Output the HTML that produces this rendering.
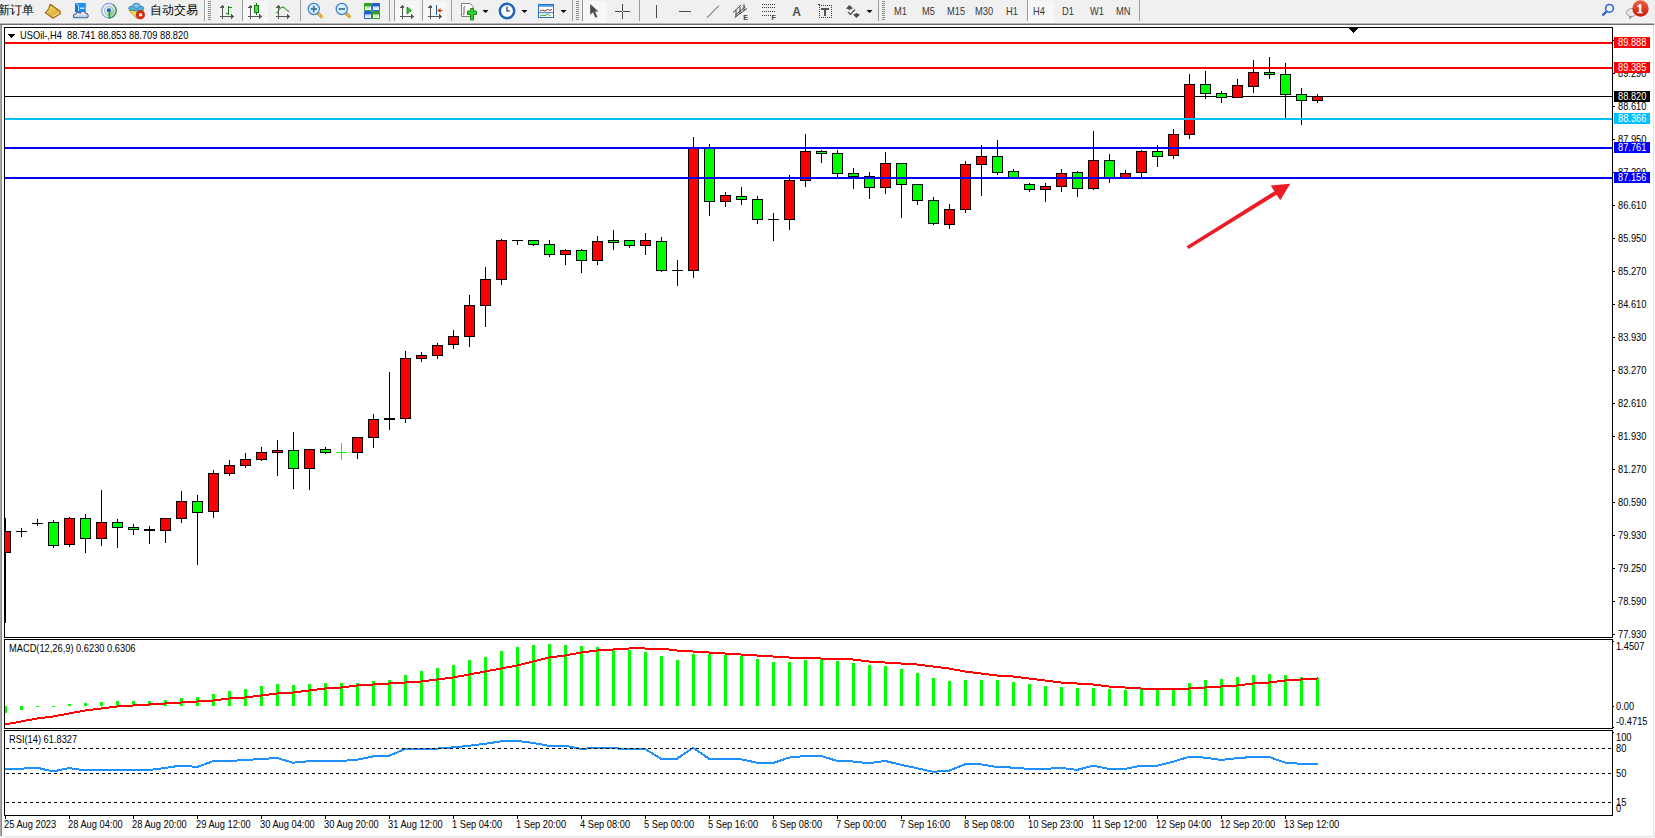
<!DOCTYPE html>
<html><head><meta charset="utf-8"><style>
html,body{margin:0;padding:0;width:1655px;height:838px;overflow:hidden;background:#f0f0f0}
svg{display:block}
text{font-family:"Liberation Sans", sans-serif;}
</style></head><body>
<svg width="1655" height="838" viewBox="0 0 1655 838">
<g shape-rendering="crispEdges">
<rect x="0" y="0" width="1655" height="838" fill="#f0f0f0"/>
<rect x="0" y="22" width="1654" height="1" fill="#f6f6f6"/>
<rect x="0" y="23" width="1654" height="1" fill="#b4b4b4"/>
<rect x="0" y="24" width="1654" height="1" fill="#6e6e6e"/>
<rect x="0" y="25" width="1" height="811" fill="#a8a8a8"/>
<rect x="1" y="25" width="1" height="811" fill="#8a8a8a"/>
<rect x="2" y="25" width="1651" height="811" fill="#ffffff"/>
<rect x="1653" y="25" width="1" height="812" fill="#e3e3e3"/>
<rect x="2" y="836" width="1652" height="1" fill="#e3e3e3"/>
<rect x="1654" y="25" width="1" height="813" fill="#fafafa"/>
<rect x="0" y="837" width="1655" height="1" fill="#fafafa"/>
<rect x="5" y="96" width="1607" height="1" fill="#000"/>
<rect x="5" y="518" width="1" height="105" fill="#000"/>
<rect x="5" y="531" width="6" height="22" fill="#000"/>
<rect x="5" y="532" width="5" height="20" fill="#ff0000"/>
<rect x="21" y="528" width="1" height="9" fill="#000"/>
<rect x="16" y="531" width="11" height="1" fill="#000"/>
<rect x="37" y="519" width="1" height="7" fill="#000"/>
<rect x="32" y="523" width="11" height="1" fill="#000"/>
<rect x="53" y="520" width="1" height="28" fill="#000"/>
<rect x="48" y="522" width="11" height="24" fill="#000"/>
<rect x="49" y="523" width="9" height="22" fill="#00ff00"/>
<rect x="69" y="517" width="1" height="30" fill="#000"/>
<rect x="64" y="518" width="11" height="27" fill="#000"/>
<rect x="65" y="519" width="9" height="25" fill="#ff0000"/>
<rect x="85" y="514" width="1" height="39" fill="#000"/>
<rect x="80" y="518" width="11" height="21" fill="#000"/>
<rect x="81" y="519" width="9" height="19" fill="#00ff00"/>
<rect x="101" y="490" width="1" height="56" fill="#000"/>
<rect x="96" y="522" width="11" height="17" fill="#000"/>
<rect x="97" y="523" width="9" height="15" fill="#ff0000"/>
<rect x="117" y="519" width="1" height="29" fill="#000"/>
<rect x="112" y="522" width="11" height="6" fill="#000"/>
<rect x="113" y="523" width="9" height="4" fill="#00ff00"/>
<rect x="133" y="524" width="1" height="11" fill="#000"/>
<rect x="128" y="527" width="11" height="3" fill="#000"/>
<rect x="129" y="528" width="9" height="1" fill="#00ff00"/>
<rect x="149" y="526" width="1" height="18" fill="#000"/>
<rect x="144" y="529" width="11" height="2" fill="#000"/>
<rect x="165" y="518" width="1" height="25" fill="#000"/>
<rect x="160" y="518" width="11" height="13" fill="#000"/>
<rect x="161" y="519" width="9" height="11" fill="#ff0000"/>
<rect x="181" y="491" width="1" height="32" fill="#000"/>
<rect x="176" y="501" width="11" height="18" fill="#000"/>
<rect x="177" y="502" width="9" height="16" fill="#ff0000"/>
<rect x="197" y="495" width="1" height="70" fill="#000"/>
<rect x="192" y="501" width="11" height="12" fill="#000"/>
<rect x="193" y="502" width="9" height="10" fill="#00ff00"/>
<rect x="213" y="470" width="1" height="48" fill="#000"/>
<rect x="208" y="473" width="11" height="39" fill="#000"/>
<rect x="209" y="474" width="9" height="37" fill="#ff0000"/>
<rect x="229" y="460" width="1" height="16" fill="#000"/>
<rect x="224" y="465" width="11" height="9" fill="#000"/>
<rect x="225" y="466" width="9" height="7" fill="#ff0000"/>
<rect x="245" y="453" width="1" height="15" fill="#000"/>
<rect x="240" y="459" width="11" height="7" fill="#000"/>
<rect x="241" y="460" width="9" height="5" fill="#ff0000"/>
<rect x="261" y="447" width="1" height="14" fill="#000"/>
<rect x="256" y="452" width="11" height="8" fill="#000"/>
<rect x="257" y="453" width="9" height="6" fill="#ff0000"/>
<rect x="277" y="440" width="1" height="36" fill="#000"/>
<rect x="272" y="450" width="11" height="3" fill="#000"/>
<rect x="273" y="451" width="9" height="1" fill="#ff0000"/>
<rect x="293" y="432" width="1" height="57" fill="#000"/>
<rect x="288" y="450" width="11" height="19" fill="#000"/>
<rect x="289" y="451" width="9" height="17" fill="#00ff00"/>
<rect x="309" y="449" width="1" height="41" fill="#000"/>
<rect x="304" y="449" width="11" height="20" fill="#000"/>
<rect x="305" y="450" width="9" height="18" fill="#ff0000"/>
<rect x="325" y="447" width="1" height="7" fill="#000"/>
<rect x="320" y="449" width="11" height="4" fill="#000"/>
<rect x="321" y="450" width="9" height="2" fill="#00ff00"/>
<rect x="341" y="443" width="1" height="17" fill="#00ff00"/>
<rect x="336" y="452" width="11" height="1" fill="#00ff00"/>
<rect x="357" y="437" width="1" height="22" fill="#000"/>
<rect x="352" y="437" width="11" height="16" fill="#000"/>
<rect x="353" y="438" width="9" height="14" fill="#ff0000"/>
<rect x="373" y="414" width="1" height="34" fill="#000"/>
<rect x="368" y="419" width="11" height="19" fill="#000"/>
<rect x="369" y="420" width="9" height="17" fill="#ff0000"/>
<rect x="389" y="372" width="1" height="58" fill="#000"/>
<rect x="384" y="418" width="11" height="2" fill="#000"/>
<rect x="405" y="351" width="1" height="72" fill="#000"/>
<rect x="400" y="358" width="11" height="61" fill="#000"/>
<rect x="401" y="359" width="9" height="59" fill="#ff0000"/>
<rect x="421" y="352" width="1" height="10" fill="#000"/>
<rect x="416" y="355" width="11" height="4" fill="#000"/>
<rect x="417" y="356" width="9" height="2" fill="#ff0000"/>
<rect x="437" y="343" width="1" height="16" fill="#000"/>
<rect x="432" y="345" width="11" height="11" fill="#000"/>
<rect x="433" y="346" width="9" height="9" fill="#ff0000"/>
<rect x="453" y="330" width="1" height="19" fill="#000"/>
<rect x="448" y="336" width="11" height="9" fill="#000"/>
<rect x="449" y="337" width="9" height="7" fill="#ff0000"/>
<rect x="469" y="295" width="1" height="52" fill="#000"/>
<rect x="464" y="305" width="11" height="32" fill="#000"/>
<rect x="465" y="306" width="9" height="30" fill="#ff0000"/>
<rect x="485" y="267" width="1" height="60" fill="#000"/>
<rect x="480" y="279" width="11" height="27" fill="#000"/>
<rect x="481" y="280" width="9" height="25" fill="#ff0000"/>
<rect x="501" y="239" width="1" height="46" fill="#000"/>
<rect x="496" y="240" width="11" height="40" fill="#000"/>
<rect x="497" y="241" width="9" height="38" fill="#ff0000"/>
<rect x="517" y="240" width="1" height="5" fill="#000"/>
<rect x="512" y="240" width="11" height="1" fill="#000"/>
<rect x="533" y="240" width="1" height="6" fill="#000"/>
<rect x="528" y="240" width="11" height="5" fill="#000"/>
<rect x="529" y="241" width="9" height="3" fill="#00ff00"/>
<rect x="549" y="240" width="1" height="17" fill="#000"/>
<rect x="544" y="244" width="11" height="11" fill="#000"/>
<rect x="545" y="245" width="9" height="9" fill="#00ff00"/>
<rect x="565" y="249" width="1" height="16" fill="#000"/>
<rect x="560" y="250" width="11" height="5" fill="#000"/>
<rect x="561" y="251" width="9" height="3" fill="#ff0000"/>
<rect x="581" y="249" width="1" height="24" fill="#000"/>
<rect x="576" y="250" width="11" height="11" fill="#000"/>
<rect x="577" y="251" width="9" height="9" fill="#00ff00"/>
<rect x="597" y="236" width="1" height="29" fill="#000"/>
<rect x="592" y="241" width="11" height="20" fill="#000"/>
<rect x="593" y="242" width="9" height="18" fill="#ff0000"/>
<rect x="613" y="230" width="1" height="20" fill="#000"/>
<rect x="608" y="240" width="11" height="3" fill="#000"/>
<rect x="609" y="241" width="9" height="1" fill="#00ff00"/>
<rect x="629" y="240" width="1" height="8" fill="#000"/>
<rect x="624" y="240" width="11" height="6" fill="#000"/>
<rect x="625" y="241" width="9" height="4" fill="#00ff00"/>
<rect x="645" y="233" width="1" height="22" fill="#000"/>
<rect x="640" y="240" width="11" height="6" fill="#000"/>
<rect x="641" y="241" width="9" height="4" fill="#ff0000"/>
<rect x="661" y="237" width="1" height="35" fill="#000"/>
<rect x="656" y="241" width="11" height="30" fill="#000"/>
<rect x="657" y="242" width="9" height="28" fill="#00ff00"/>
<rect x="677" y="260" width="1" height="26" fill="#000"/>
<rect x="672" y="270" width="11" height="1" fill="#000"/>
<rect x="693" y="137" width="1" height="141" fill="#000"/>
<rect x="688" y="148" width="11" height="123" fill="#000"/>
<rect x="689" y="149" width="9" height="121" fill="#ff0000"/>
<rect x="709" y="144" width="1" height="72" fill="#000"/>
<rect x="704" y="148" width="11" height="54" fill="#000"/>
<rect x="705" y="149" width="9" height="52" fill="#00ff00"/>
<rect x="725" y="192" width="1" height="15" fill="#000"/>
<rect x="720" y="195" width="11" height="7" fill="#000"/>
<rect x="721" y="196" width="9" height="5" fill="#ff0000"/>
<rect x="741" y="187" width="1" height="18" fill="#000"/>
<rect x="736" y="196" width="11" height="4" fill="#000"/>
<rect x="737" y="197" width="9" height="2" fill="#00ff00"/>
<rect x="757" y="196" width="1" height="28" fill="#000"/>
<rect x="752" y="199" width="11" height="21" fill="#000"/>
<rect x="753" y="200" width="9" height="19" fill="#00ff00"/>
<rect x="773" y="213" width="1" height="28" fill="#000"/>
<rect x="768" y="219" width="11" height="1" fill="#000"/>
<rect x="789" y="175" width="1" height="55" fill="#000"/>
<rect x="784" y="180" width="11" height="40" fill="#000"/>
<rect x="785" y="181" width="9" height="38" fill="#ff0000"/>
<rect x="805" y="134" width="1" height="53" fill="#000"/>
<rect x="800" y="151" width="11" height="30" fill="#000"/>
<rect x="801" y="152" width="9" height="28" fill="#ff0000"/>
<rect x="821" y="150" width="1" height="13" fill="#000"/>
<rect x="816" y="151" width="11" height="3" fill="#000"/>
<rect x="817" y="152" width="9" height="1" fill="#00ff00"/>
<rect x="837" y="150" width="1" height="28" fill="#000"/>
<rect x="832" y="153" width="11" height="21" fill="#000"/>
<rect x="833" y="154" width="9" height="19" fill="#00ff00"/>
<rect x="853" y="168" width="1" height="21" fill="#000"/>
<rect x="848" y="173" width="11" height="4" fill="#000"/>
<rect x="849" y="174" width="9" height="2" fill="#00ff00"/>
<rect x="869" y="172" width="1" height="27" fill="#000"/>
<rect x="864" y="176" width="11" height="12" fill="#000"/>
<rect x="865" y="177" width="9" height="10" fill="#00ff00"/>
<rect x="885" y="152" width="1" height="42" fill="#000"/>
<rect x="880" y="163" width="11" height="25" fill="#000"/>
<rect x="881" y="164" width="9" height="23" fill="#ff0000"/>
<rect x="901" y="163" width="1" height="55" fill="#000"/>
<rect x="896" y="163" width="11" height="22" fill="#000"/>
<rect x="897" y="164" width="9" height="20" fill="#00ff00"/>
<rect x="917" y="184" width="1" height="21" fill="#000"/>
<rect x="912" y="184" width="11" height="17" fill="#000"/>
<rect x="913" y="185" width="9" height="15" fill="#00ff00"/>
<rect x="933" y="197" width="1" height="28" fill="#000"/>
<rect x="928" y="200" width="11" height="24" fill="#000"/>
<rect x="929" y="201" width="9" height="22" fill="#00ff00"/>
<rect x="949" y="204" width="1" height="25" fill="#000"/>
<rect x="944" y="209" width="11" height="16" fill="#000"/>
<rect x="945" y="210" width="9" height="14" fill="#ff0000"/>
<rect x="965" y="161" width="1" height="52" fill="#000"/>
<rect x="960" y="164" width="11" height="46" fill="#000"/>
<rect x="961" y="165" width="9" height="44" fill="#ff0000"/>
<rect x="981" y="145" width="1" height="51" fill="#000"/>
<rect x="976" y="156" width="11" height="9" fill="#000"/>
<rect x="977" y="157" width="9" height="7" fill="#ff0000"/>
<rect x="997" y="140" width="1" height="35" fill="#000"/>
<rect x="992" y="156" width="11" height="17" fill="#000"/>
<rect x="993" y="157" width="9" height="15" fill="#00ff00"/>
<rect x="1013" y="169" width="1" height="9" fill="#000"/>
<rect x="1008" y="171" width="11" height="7" fill="#000"/>
<rect x="1009" y="172" width="9" height="5" fill="#00ff00"/>
<rect x="1029" y="183" width="1" height="9" fill="#000"/>
<rect x="1024" y="184" width="11" height="6" fill="#000"/>
<rect x="1025" y="185" width="9" height="4" fill="#00ff00"/>
<rect x="1045" y="183" width="1" height="19" fill="#000"/>
<rect x="1040" y="186" width="11" height="4" fill="#000"/>
<rect x="1041" y="187" width="9" height="2" fill="#ff0000"/>
<rect x="1061" y="169" width="1" height="23" fill="#000"/>
<rect x="1056" y="173" width="11" height="14" fill="#000"/>
<rect x="1057" y="174" width="9" height="12" fill="#ff0000"/>
<rect x="1077" y="171" width="1" height="26" fill="#000"/>
<rect x="1072" y="172" width="11" height="17" fill="#000"/>
<rect x="1073" y="173" width="9" height="15" fill="#00ff00"/>
<rect x="1093" y="131" width="1" height="59" fill="#000"/>
<rect x="1088" y="160" width="11" height="29" fill="#000"/>
<rect x="1089" y="161" width="9" height="27" fill="#ff0000"/>
<rect x="1109" y="154" width="1" height="29" fill="#000"/>
<rect x="1104" y="160" width="11" height="18" fill="#000"/>
<rect x="1105" y="161" width="9" height="16" fill="#00ff00"/>
<rect x="1125" y="170" width="1" height="8" fill="#000"/>
<rect x="1120" y="173" width="11" height="5" fill="#000"/>
<rect x="1121" y="174" width="9" height="3" fill="#ff0000"/>
<rect x="1141" y="150" width="1" height="27" fill="#000"/>
<rect x="1136" y="151" width="11" height="22" fill="#000"/>
<rect x="1137" y="152" width="9" height="20" fill="#ff0000"/>
<rect x="1157" y="145" width="1" height="22" fill="#000"/>
<rect x="1152" y="151" width="11" height="6" fill="#000"/>
<rect x="1153" y="152" width="9" height="4" fill="#00ff00"/>
<rect x="1173" y="129" width="1" height="30" fill="#000"/>
<rect x="1168" y="134" width="11" height="22" fill="#000"/>
<rect x="1169" y="135" width="9" height="20" fill="#ff0000"/>
<rect x="1189" y="74" width="1" height="65" fill="#000"/>
<rect x="1184" y="84" width="11" height="51" fill="#000"/>
<rect x="1185" y="85" width="9" height="49" fill="#ff0000"/>
<rect x="1205" y="71" width="1" height="28" fill="#000"/>
<rect x="1200" y="84" width="11" height="10" fill="#000"/>
<rect x="1201" y="85" width="9" height="8" fill="#00ff00"/>
<rect x="1221" y="91" width="1" height="12" fill="#000"/>
<rect x="1216" y="93" width="11" height="5" fill="#000"/>
<rect x="1217" y="94" width="9" height="3" fill="#00ff00"/>
<rect x="1237" y="79" width="1" height="19" fill="#000"/>
<rect x="1232" y="85" width="11" height="13" fill="#000"/>
<rect x="1233" y="86" width="9" height="11" fill="#ff0000"/>
<rect x="1253" y="60" width="1" height="33" fill="#000"/>
<rect x="1248" y="72" width="11" height="15" fill="#000"/>
<rect x="1249" y="73" width="9" height="13" fill="#ff0000"/>
<rect x="1269" y="57" width="1" height="22" fill="#000"/>
<rect x="1264" y="72" width="11" height="3" fill="#000"/>
<rect x="1265" y="73" width="9" height="1" fill="#00ff00"/>
<rect x="1285" y="63" width="1" height="56" fill="#000"/>
<rect x="1280" y="74" width="11" height="21" fill="#000"/>
<rect x="1281" y="75" width="9" height="19" fill="#00ff00"/>
<rect x="1301" y="88" width="1" height="37" fill="#000"/>
<rect x="1296" y="94" width="11" height="7" fill="#000"/>
<rect x="1297" y="95" width="9" height="5" fill="#00ff00"/>
<rect x="1317" y="94" width="1" height="9" fill="#000"/>
<rect x="1312" y="96" width="11" height="5" fill="#000"/>
<rect x="1313" y="97" width="9" height="3" fill="#ff0000"/>
<rect x="5" y="42" width="1607" height="2" fill="#ff0000"/>
<rect x="5" y="67" width="1607" height="2" fill="#ff0000"/>
<rect x="5" y="118" width="1607" height="2" fill="#00bfff"/>
<rect x="5" y="147" width="1607" height="2" fill="#0000ff"/>
<rect x="5" y="177" width="1607" height="2" fill="#0000ff"/>
<g fill="#ed1c24" stroke="none" shape-rendering="geometricPrecision"><polygon points="1186.6,246.2 1188.6,249.0 1277.0,194.4 1275.0,191.0"/><polygon points="1270.7,185.5 1290.3,183.8 1280.2,200.3"/></g>
<rect x="4" y="27" width="1609" height="1" fill="#000"/>
<rect x="4" y="637" width="1609" height="1" fill="#000"/>
<rect x="4" y="27" width="1" height="611" fill="#000"/>
<rect x="1612" y="27" width="1" height="611" fill="#000"/>
<rect x="4" y="639" width="1609" height="1" fill="#000"/>
<rect x="4" y="728" width="1609" height="1" fill="#000"/>
<rect x="4" y="639" width="1" height="90" fill="#000"/>
<rect x="1612" y="639" width="1" height="90" fill="#000"/>
<rect x="4" y="730" width="1609" height="1" fill="#000"/>
<rect x="4" y="815" width="1609" height="1" fill="#000"/>
<rect x="4" y="730" width="1" height="86" fill="#000"/>
<rect x="1612" y="730" width="1" height="86" fill="#000"/>
<rect x="1349" y="28" width="9" height="1" fill="#000"/>
<rect x="1350" y="29" width="7" height="1" fill="#000"/>
<rect x="1351" y="30" width="5" height="1" fill="#000"/>
<rect x="1352" y="31" width="3" height="1" fill="#000"/>
<rect x="1353" y="32" width="1" height="1" fill="#000"/>
<rect x="1613" y="40" width="2" height="1" fill="#000"/>
<rect x="1613" y="73" width="2" height="1" fill="#000"/>
<text transform="translate(1618 77) scale(1 1.1)" font-size="9.3" fill="#000" text-anchor="start" >89.290</text>
<rect x="1613" y="106" width="2" height="1" fill="#000"/>
<text transform="translate(1618 110) scale(1 1.1)" font-size="9.3" fill="#000" text-anchor="start" >88.610</text>
<rect x="1613" y="139" width="2" height="1" fill="#000"/>
<text transform="translate(1618 143) scale(1 1.1)" font-size="9.3" fill="#000" text-anchor="start" >87.950</text>
<rect x="1613" y="172" width="2" height="1" fill="#000"/>
<text transform="translate(1618 176) scale(1 1.1)" font-size="9.3" fill="#000" text-anchor="start" >87.290</text>
<rect x="1613" y="205" width="2" height="1" fill="#000"/>
<text transform="translate(1618 209) scale(1 1.1)" font-size="9.3" fill="#000" text-anchor="start" >86.610</text>
<rect x="1613" y="238" width="2" height="1" fill="#000"/>
<text transform="translate(1618 242) scale(1 1.1)" font-size="9.3" fill="#000" text-anchor="start" >85.950</text>
<rect x="1613" y="271" width="2" height="1" fill="#000"/>
<text transform="translate(1618 275) scale(1 1.1)" font-size="9.3" fill="#000" text-anchor="start" >85.270</text>
<rect x="1613" y="304" width="2" height="1" fill="#000"/>
<text transform="translate(1618 308) scale(1 1.1)" font-size="9.3" fill="#000" text-anchor="start" >84.610</text>
<rect x="1613" y="337" width="2" height="1" fill="#000"/>
<text transform="translate(1618 341) scale(1 1.1)" font-size="9.3" fill="#000" text-anchor="start" >83.930</text>
<rect x="1613" y="370" width="2" height="1" fill="#000"/>
<text transform="translate(1618 374) scale(1 1.1)" font-size="9.3" fill="#000" text-anchor="start" >83.270</text>
<rect x="1613" y="403" width="2" height="1" fill="#000"/>
<text transform="translate(1618 407) scale(1 1.1)" font-size="9.3" fill="#000" text-anchor="start" >82.610</text>
<rect x="1613" y="436" width="2" height="1" fill="#000"/>
<text transform="translate(1618 440) scale(1 1.1)" font-size="9.3" fill="#000" text-anchor="start" >81.930</text>
<rect x="1613" y="469" width="2" height="1" fill="#000"/>
<text transform="translate(1618 473) scale(1 1.1)" font-size="9.3" fill="#000" text-anchor="start" >81.270</text>
<rect x="1613" y="502" width="2" height="1" fill="#000"/>
<text transform="translate(1618 506) scale(1 1.1)" font-size="9.3" fill="#000" text-anchor="start" >80.590</text>
<rect x="1613" y="535" width="2" height="1" fill="#000"/>
<text transform="translate(1618 539) scale(1 1.1)" font-size="9.3" fill="#000" text-anchor="start" >79.930</text>
<rect x="1613" y="568" width="2" height="1" fill="#000"/>
<text transform="translate(1618 572) scale(1 1.1)" font-size="9.3" fill="#000" text-anchor="start" >79.250</text>
<rect x="1613" y="601" width="2" height="1" fill="#000"/>
<text transform="translate(1618 605) scale(1 1.1)" font-size="9.3" fill="#000" text-anchor="start" >78.590</text>
<rect x="1613" y="634" width="2" height="1" fill="#000"/>
<text transform="translate(1618 638) scale(1 1.1)" font-size="9.3" fill="#000" text-anchor="start" >77.930</text>
<rect x="1614" y="37" width="36" height="11" fill="#ff0000"/>
<text transform="translate(1618 46) scale(1 1.1)" font-size="9.3" fill="#fff" text-anchor="start" >89.888</text>
<rect x="1614" y="62" width="36" height="11" fill="#ff0000"/>
<text transform="translate(1618 71) scale(1 1.1)" font-size="9.3" fill="#fff" text-anchor="start" >89.385</text>
<rect x="1614" y="91" width="36" height="11" fill="#000"/>
<text transform="translate(1618 100) scale(1 1.1)" font-size="9.3" fill="#fff" text-anchor="start" >88.820</text>
<rect x="1614" y="113" width="36" height="11" fill="#00bfff"/>
<text transform="translate(1618 122) scale(1 1.1)" font-size="9.3" fill="#fff" text-anchor="start" >88.366</text>
<rect x="1614" y="142" width="36" height="11" fill="#0000ff"/>
<text transform="translate(1618 151) scale(1 1.1)" font-size="9.3" fill="#fff" text-anchor="start" >87.761</text>
<rect x="1614" y="172" width="36" height="11" fill="#0000ff"/>
<text transform="translate(1618 181) scale(1 1.1)" font-size="9.3" fill="#fff" text-anchor="start" >87.156</text>
<polygon points="8,34 15,34 11.5,38" fill="#000"/>
<text transform="translate(20 39) scale(1 1.1)" font-size="9.3" fill="#000" text-anchor="start" >USOil-,H4&#160;&#160;88.741 88.853 88.709 88.820</text>
<rect x="5" y="706" width="2" height="7" fill="#00ff00"/>
<rect x="20" y="706" width="3" height="4" fill="#00ff00"/>
<rect x="36" y="706" width="3" height="1" fill="#00ff00"/>
<rect x="52" y="706" width="3" height="1" fill="#00ff00"/>
<rect x="68" y="704" width="3" height="2" fill="#00ff00"/>
<rect x="84" y="703" width="3" height="3" fill="#00ff00"/>
<rect x="100" y="702" width="3" height="4" fill="#00ff00"/>
<rect x="116" y="701" width="3" height="5" fill="#00ff00"/>
<rect x="132" y="701" width="3" height="5" fill="#00ff00"/>
<rect x="148" y="701" width="3" height="5" fill="#00ff00"/>
<rect x="164" y="700" width="3" height="6" fill="#00ff00"/>
<rect x="180" y="698" width="3" height="8" fill="#00ff00"/>
<rect x="196" y="697" width="3" height="9" fill="#00ff00"/>
<rect x="212" y="694" width="3" height="12" fill="#00ff00"/>
<rect x="228" y="691" width="3" height="15" fill="#00ff00"/>
<rect x="244" y="689" width="3" height="17" fill="#00ff00"/>
<rect x="260" y="686" width="3" height="20" fill="#00ff00"/>
<rect x="276" y="684" width="3" height="22" fill="#00ff00"/>
<rect x="292" y="685" width="3" height="21" fill="#00ff00"/>
<rect x="308" y="684" width="3" height="22" fill="#00ff00"/>
<rect x="324" y="683" width="3" height="23" fill="#00ff00"/>
<rect x="340" y="683" width="3" height="23" fill="#00ff00"/>
<rect x="356" y="683" width="3" height="23" fill="#00ff00"/>
<rect x="372" y="681" width="3" height="25" fill="#00ff00"/>
<rect x="388" y="680" width="3" height="26" fill="#00ff00"/>
<rect x="404" y="675" width="3" height="31" fill="#00ff00"/>
<rect x="420" y="671" width="3" height="35" fill="#00ff00"/>
<rect x="436" y="668" width="3" height="38" fill="#00ff00"/>
<rect x="452" y="665" width="3" height="41" fill="#00ff00"/>
<rect x="468" y="660" width="3" height="46" fill="#00ff00"/>
<rect x="484" y="657" width="3" height="49" fill="#00ff00"/>
<rect x="500" y="651" width="3" height="55" fill="#00ff00"/>
<rect x="516" y="647" width="3" height="59" fill="#00ff00"/>
<rect x="532" y="645" width="3" height="61" fill="#00ff00"/>
<rect x="548" y="644" width="3" height="62" fill="#00ff00"/>
<rect x="564" y="645" width="3" height="61" fill="#00ff00"/>
<rect x="580" y="646" width="3" height="60" fill="#00ff00"/>
<rect x="596" y="647" width="3" height="59" fill="#00ff00"/>
<rect x="612" y="649" width="3" height="57" fill="#00ff00"/>
<rect x="628" y="650" width="3" height="56" fill="#00ff00"/>
<rect x="644" y="652" width="3" height="54" fill="#00ff00"/>
<rect x="660" y="656" width="3" height="50" fill="#00ff00"/>
<rect x="676" y="660" width="3" height="46" fill="#00ff00"/>
<rect x="692" y="654" width="3" height="52" fill="#00ff00"/>
<rect x="708" y="654" width="3" height="52" fill="#00ff00"/>
<rect x="724" y="655" width="3" height="51" fill="#00ff00"/>
<rect x="740" y="656" width="3" height="50" fill="#00ff00"/>
<rect x="756" y="659" width="3" height="47" fill="#00ff00"/>
<rect x="772" y="662" width="3" height="44" fill="#00ff00"/>
<rect x="788" y="662" width="3" height="44" fill="#00ff00"/>
<rect x="804" y="660" width="3" height="46" fill="#00ff00"/>
<rect x="820" y="659" width="3" height="47" fill="#00ff00"/>
<rect x="836" y="661" width="3" height="45" fill="#00ff00"/>
<rect x="852" y="663" width="3" height="43" fill="#00ff00"/>
<rect x="868" y="665" width="3" height="41" fill="#00ff00"/>
<rect x="884" y="666" width="3" height="40" fill="#00ff00"/>
<rect x="900" y="669" width="3" height="37" fill="#00ff00"/>
<rect x="916" y="673" width="3" height="33" fill="#00ff00"/>
<rect x="932" y="678" width="3" height="28" fill="#00ff00"/>
<rect x="948" y="681" width="3" height="25" fill="#00ff00"/>
<rect x="964" y="680" width="3" height="26" fill="#00ff00"/>
<rect x="980" y="680" width="3" height="26" fill="#00ff00"/>
<rect x="996" y="680" width="3" height="26" fill="#00ff00"/>
<rect x="1012" y="682" width="3" height="24" fill="#00ff00"/>
<rect x="1028" y="684" width="3" height="22" fill="#00ff00"/>
<rect x="1044" y="686" width="3" height="20" fill="#00ff00"/>
<rect x="1060" y="687" width="3" height="19" fill="#00ff00"/>
<rect x="1076" y="688" width="3" height="18" fill="#00ff00"/>
<rect x="1092" y="688" width="3" height="18" fill="#00ff00"/>
<rect x="1108" y="689" width="3" height="17" fill="#00ff00"/>
<rect x="1124" y="690" width="3" height="16" fill="#00ff00"/>
<rect x="1140" y="689" width="3" height="17" fill="#00ff00"/>
<rect x="1156" y="688" width="3" height="18" fill="#00ff00"/>
<rect x="1172" y="688" width="3" height="18" fill="#00ff00"/>
<rect x="1188" y="683" width="3" height="23" fill="#00ff00"/>
<rect x="1204" y="680" width="3" height="26" fill="#00ff00"/>
<rect x="1220" y="679" width="3" height="27" fill="#00ff00"/>
<rect x="1236" y="677" width="3" height="29" fill="#00ff00"/>
<rect x="1252" y="675" width="3" height="31" fill="#00ff00"/>
<rect x="1268" y="674" width="3" height="32" fill="#00ff00"/>
<rect x="1284" y="675" width="3" height="31" fill="#00ff00"/>
<rect x="1300" y="677" width="3" height="29" fill="#00ff00"/>
<rect x="1316" y="678" width="3" height="28" fill="#00ff00"/>
<rect x="5" y="723" width="5" height="2" fill="#ff0000"/>
<rect x="10" y="722" width="6" height="2" fill="#ff0000"/>
<rect x="16" y="721" width="5" height="2" fill="#ff0000"/>
<rect x="21" y="720" width="5" height="2" fill="#ff0000"/>
<rect x="26" y="719" width="6" height="2" fill="#ff0000"/>
<rect x="32" y="718" width="5" height="2" fill="#ff0000"/>
<rect x="37" y="717" width="8" height="2" fill="#ff0000"/>
<rect x="45" y="716" width="8" height="2" fill="#ff0000"/>
<rect x="53" y="715" width="5" height="2" fill="#ff0000"/>
<rect x="58" y="714" width="6" height="2" fill="#ff0000"/>
<rect x="64" y="713" width="5" height="2" fill="#ff0000"/>
<rect x="69" y="712" width="5" height="2" fill="#ff0000"/>
<rect x="74" y="711" width="6" height="2" fill="#ff0000"/>
<rect x="80" y="710" width="5" height="2" fill="#ff0000"/>
<rect x="85" y="709" width="8" height="2" fill="#ff0000"/>
<rect x="93" y="708" width="8" height="2" fill="#ff0000"/>
<rect x="101" y="707" width="8" height="2" fill="#ff0000"/>
<rect x="109" y="706" width="8" height="2" fill="#ff0000"/>
<rect x="117" y="705" width="16" height="2" fill="#ff0000"/>
<rect x="133" y="704" width="16" height="2" fill="#ff0000"/>
<rect x="149" y="703" width="16" height="2" fill="#ff0000"/>
<rect x="165" y="702" width="16" height="2" fill="#ff0000"/>
<rect x="181" y="701" width="16" height="2" fill="#ff0000"/>
<rect x="197" y="700" width="16" height="2" fill="#ff0000"/>
<rect x="213" y="699" width="8" height="2" fill="#ff0000"/>
<rect x="221" y="698" width="8" height="2" fill="#ff0000"/>
<rect x="229" y="697" width="16" height="2" fill="#ff0000"/>
<rect x="245" y="696" width="8" height="2" fill="#ff0000"/>
<rect x="253" y="695" width="8" height="2" fill="#ff0000"/>
<rect x="261" y="694" width="8" height="2" fill="#ff0000"/>
<rect x="269" y="693" width="8" height="2" fill="#ff0000"/>
<rect x="277" y="692" width="16" height="2" fill="#ff0000"/>
<rect x="293" y="691" width="8" height="2" fill="#ff0000"/>
<rect x="301" y="690" width="8" height="2" fill="#ff0000"/>
<rect x="309" y="689" width="8" height="2" fill="#ff0000"/>
<rect x="317" y="688" width="8" height="2" fill="#ff0000"/>
<rect x="325" y="687" width="16" height="2" fill="#ff0000"/>
<rect x="341" y="686" width="8" height="2" fill="#ff0000"/>
<rect x="349" y="685" width="8" height="2" fill="#ff0000"/>
<rect x="357" y="684" width="16" height="2" fill="#ff0000"/>
<rect x="373" y="683" width="16" height="2" fill="#ff0000"/>
<rect x="389" y="682" width="16" height="2" fill="#ff0000"/>
<rect x="405" y="681" width="16" height="2" fill="#ff0000"/>
<rect x="421" y="680" width="8" height="2" fill="#ff0000"/>
<rect x="429" y="679" width="8" height="2" fill="#ff0000"/>
<rect x="437" y="678" width="8" height="2" fill="#ff0000"/>
<rect x="445" y="677" width="8" height="2" fill="#ff0000"/>
<rect x="453" y="676" width="5" height="2" fill="#ff0000"/>
<rect x="458" y="675" width="6" height="2" fill="#ff0000"/>
<rect x="464" y="674" width="5" height="2" fill="#ff0000"/>
<rect x="469" y="673" width="5" height="2" fill="#ff0000"/>
<rect x="474" y="672" width="6" height="2" fill="#ff0000"/>
<rect x="480" y="671" width="5" height="2" fill="#ff0000"/>
<rect x="485" y="670" width="5" height="2" fill="#ff0000"/>
<rect x="490" y="669" width="6" height="2" fill="#ff0000"/>
<rect x="496" y="668" width="5" height="2" fill="#ff0000"/>
<rect x="501" y="667" width="5" height="2" fill="#ff0000"/>
<rect x="506" y="666" width="6" height="2" fill="#ff0000"/>
<rect x="512" y="665" width="5" height="2" fill="#ff0000"/>
<rect x="517" y="664" width="4" height="2" fill="#ff0000"/>
<rect x="521" y="663" width="4" height="2" fill="#ff0000"/>
<rect x="525" y="662" width="4" height="2" fill="#ff0000"/>
<rect x="529" y="661" width="4" height="2" fill="#ff0000"/>
<rect x="533" y="660" width="4" height="2" fill="#ff0000"/>
<rect x="537" y="659" width="4" height="2" fill="#ff0000"/>
<rect x="541" y="658" width="4" height="2" fill="#ff0000"/>
<rect x="545" y="657" width="4" height="2" fill="#ff0000"/>
<rect x="549" y="656" width="8" height="2" fill="#ff0000"/>
<rect x="557" y="655" width="8" height="2" fill="#ff0000"/>
<rect x="565" y="654" width="5" height="2" fill="#ff0000"/>
<rect x="570" y="653" width="6" height="2" fill="#ff0000"/>
<rect x="576" y="652" width="5" height="2" fill="#ff0000"/>
<rect x="581" y="651" width="8" height="2" fill="#ff0000"/>
<rect x="589" y="650" width="8" height="2" fill="#ff0000"/>
<rect x="597" y="649" width="16" height="2" fill="#ff0000"/>
<rect x="613" y="648" width="16" height="2" fill="#ff0000"/>
<rect x="629" y="647" width="16" height="2" fill="#ff0000"/>
<rect x="645" y="648" width="16" height="2" fill="#ff0000"/>
<rect x="661" y="648" width="8" height="2" fill="#ff0000"/>
<rect x="669" y="649" width="8" height="2" fill="#ff0000"/>
<rect x="677" y="650" width="16" height="2" fill="#ff0000"/>
<rect x="693" y="651" width="16" height="2" fill="#ff0000"/>
<rect x="709" y="652" width="16" height="2" fill="#ff0000"/>
<rect x="725" y="653" width="16" height="2" fill="#ff0000"/>
<rect x="741" y="654" width="16" height="2" fill="#ff0000"/>
<rect x="757" y="655" width="16" height="2" fill="#ff0000"/>
<rect x="773" y="656" width="16" height="2" fill="#ff0000"/>
<rect x="789" y="657" width="16" height="2" fill="#ff0000"/>
<rect x="805" y="657" width="16" height="2" fill="#ff0000"/>
<rect x="821" y="658" width="16" height="2" fill="#ff0000"/>
<rect x="837" y="658" width="16" height="2" fill="#ff0000"/>
<rect x="853" y="659" width="8" height="2" fill="#ff0000"/>
<rect x="861" y="660" width="8" height="2" fill="#ff0000"/>
<rect x="869" y="661" width="16" height="2" fill="#ff0000"/>
<rect x="885" y="662" width="16" height="2" fill="#ff0000"/>
<rect x="901" y="663" width="16" height="2" fill="#ff0000"/>
<rect x="917" y="664" width="8" height="2" fill="#ff0000"/>
<rect x="925" y="665" width="8" height="2" fill="#ff0000"/>
<rect x="933" y="666" width="8" height="2" fill="#ff0000"/>
<rect x="941" y="667" width="8" height="2" fill="#ff0000"/>
<rect x="949" y="668" width="5" height="2" fill="#ff0000"/>
<rect x="954" y="669" width="6" height="2" fill="#ff0000"/>
<rect x="960" y="670" width="5" height="2" fill="#ff0000"/>
<rect x="965" y="671" width="8" height="2" fill="#ff0000"/>
<rect x="973" y="672" width="8" height="2" fill="#ff0000"/>
<rect x="981" y="673" width="8" height="2" fill="#ff0000"/>
<rect x="989" y="674" width="8" height="2" fill="#ff0000"/>
<rect x="997" y="675" width="16" height="2" fill="#ff0000"/>
<rect x="1013" y="676" width="8" height="2" fill="#ff0000"/>
<rect x="1021" y="677" width="8" height="2" fill="#ff0000"/>
<rect x="1029" y="678" width="8" height="2" fill="#ff0000"/>
<rect x="1037" y="679" width="8" height="2" fill="#ff0000"/>
<rect x="1045" y="680" width="8" height="2" fill="#ff0000"/>
<rect x="1053" y="681" width="8" height="2" fill="#ff0000"/>
<rect x="1061" y="682" width="16" height="2" fill="#ff0000"/>
<rect x="1077" y="683" width="16" height="2" fill="#ff0000"/>
<rect x="1093" y="684" width="8" height="2" fill="#ff0000"/>
<rect x="1101" y="685" width="8" height="2" fill="#ff0000"/>
<rect x="1109" y="686" width="16" height="2" fill="#ff0000"/>
<rect x="1125" y="687" width="16" height="2" fill="#ff0000"/>
<rect x="1141" y="688" width="16" height="2" fill="#ff0000"/>
<rect x="1157" y="688" width="16" height="2" fill="#ff0000"/>
<rect x="1173" y="688" width="16" height="2" fill="#ff0000"/>
<rect x="1189" y="687" width="16" height="2" fill="#ff0000"/>
<rect x="1205" y="686" width="16" height="2" fill="#ff0000"/>
<rect x="1221" y="685" width="16" height="2" fill="#ff0000"/>
<rect x="1237" y="684" width="8" height="2" fill="#ff0000"/>
<rect x="1245" y="683" width="8" height="2" fill="#ff0000"/>
<rect x="1253" y="682" width="16" height="2" fill="#ff0000"/>
<rect x="1269" y="681" width="8" height="2" fill="#ff0000"/>
<rect x="1277" y="680" width="8" height="2" fill="#ff0000"/>
<rect x="1285" y="679" width="16" height="2" fill="#ff0000"/>
<rect x="1301" y="678" width="16" height="2" fill="#ff0000"/>
<rect x="1317" y="677" width="1" height="2" fill="#ff0000"/>
<text transform="translate(9 652) scale(1 1.1)" font-size="9.3" fill="#000" text-anchor="start" >MACD(12,26,9) 0.6230 0.6306</text>
<rect x="1613" y="641" width="1" height="1" fill="#000"/>
<rect x="1613" y="706" width="1" height="1" fill="#000"/>
<rect x="1613" y="727" width="1" height="1" fill="#000"/>
<rect x="1613" y="732" width="1" height="1" fill="#000"/>
<text transform="translate(1616 650) scale(1 1.1)" font-size="9.3" fill="#000" text-anchor="start" >1.4507</text>
<text transform="translate(1616 710) scale(1 1.1)" font-size="9.3" fill="#000" text-anchor="start" >0.00</text>
<text transform="translate(1616 725) scale(1 1.1)" font-size="9.3" fill="#000" text-anchor="start" >-0.4715</text>
<polyline points="5,768.7 21,768.7 37,767.7 53,771.5 69,768 85,770.5 101,770 117,770 133,770 149,770 165,768 181,765.5 197,767 213,761.2 229,761 245,760 261,759 277,758 293,762.7 309,761.2 325,761.2 341,760.9 357,759.8 373,756.4 389,755.8 405,749 421,749 437,748.6 453,747.4 469,745.8 485,743.8 501,741.4 517,740.9 533,742.9 549,745.8 565,745.8 581,748.9 597,747.8 613,748.3 629,748.9 645,748.9 661,758.8 677,758.7 693,747.8 709,758.7 725,758.7 741,759.2 757,762.7 773,763 789,757.6 805,756 821,755.8 837,760.9 853,761.5 869,763.2 885,760.9 901,764.8 917,768.2 933,771.8 949,770.7 965,764.3 981,764.3 997,767 1013,767.6 1029,768.9 1045,768.9 1061,767.9 1077,769.9 1093,765.8 1109,768.9 1125,768.9 1141,765.8 1157,765.8 1173,761.8 1189,756.8 1205,757.6 1221,760 1237,758.2 1253,756.9 1269,756.9 1285,762.6 1301,763.8 1317,763.8 1318,763.8" fill="none" stroke="#1e90ff" stroke-width="2" shape-rendering="crispEdges"/>
<line x1="6" y1="748.5" x2="1612" y2="748.5" stroke="#000" stroke-width="1" stroke-dasharray="3 3" shape-rendering="crispEdges"/>
<line x1="6" y1="773.5" x2="1612" y2="773.5" stroke="#000" stroke-width="1" stroke-dasharray="3 3" shape-rendering="crispEdges"/>
<line x1="6" y1="802.5" x2="1612" y2="802.5" stroke="#000" stroke-width="1" stroke-dasharray="3 3" shape-rendering="crispEdges"/>
<text transform="translate(9 743) scale(1 1.1)" font-size="9.3" fill="#000" text-anchor="start" >RSI(14) 61.8327</text>
<text transform="translate(1616 741) scale(1 1.1)" font-size="9.3" fill="#000" text-anchor="start" >100</text>
<text transform="translate(1616 752) scale(1 1.1)" font-size="9.3" fill="#000" text-anchor="start" >80</text>
<text transform="translate(1616 777) scale(1 1.1)" font-size="9.3" fill="#000" text-anchor="start" >50</text>
<text transform="translate(1616 806) scale(1 1.1)" font-size="9.3" fill="#000" text-anchor="start" >15</text>
<text transform="translate(1616 812) scale(1 1.1)" font-size="9.3" fill="#000" text-anchor="start" >0</text>
<rect x="5" y="816" width="1" height="3" fill="#000"/>
<text transform="translate(4 828) scale(1 1.1)" font-size="9.3" fill="#000" text-anchor="start" >25 Aug 2023</text>
<rect x="69" y="816" width="1" height="3" fill="#000"/>
<text transform="translate(68 828) scale(1 1.1)" font-size="9.3" fill="#000" text-anchor="start" >28 Aug 04:00</text>
<rect x="133" y="816" width="1" height="3" fill="#000"/>
<text transform="translate(132 828) scale(1 1.1)" font-size="9.3" fill="#000" text-anchor="start" >28 Aug 20:00</text>
<rect x="197" y="816" width="1" height="3" fill="#000"/>
<text transform="translate(196 828) scale(1 1.1)" font-size="9.3" fill="#000" text-anchor="start" >29 Aug 12:00</text>
<rect x="261" y="816" width="1" height="3" fill="#000"/>
<text transform="translate(260 828) scale(1 1.1)" font-size="9.3" fill="#000" text-anchor="start" >30 Aug 04:00</text>
<rect x="325" y="816" width="1" height="3" fill="#000"/>
<text transform="translate(324 828) scale(1 1.1)" font-size="9.3" fill="#000" text-anchor="start" >30 Aug 20:00</text>
<rect x="389" y="816" width="1" height="3" fill="#000"/>
<text transform="translate(388 828) scale(1 1.1)" font-size="9.3" fill="#000" text-anchor="start" >31 Aug 12:00</text>
<rect x="453" y="816" width="1" height="3" fill="#000"/>
<text transform="translate(452 828) scale(1 1.1)" font-size="9.3" fill="#000" text-anchor="start" >1 Sep 04:00</text>
<rect x="517" y="816" width="1" height="3" fill="#000"/>
<text transform="translate(516 828) scale(1 1.1)" font-size="9.3" fill="#000" text-anchor="start" >1 Sep 20:00</text>
<rect x="581" y="816" width="1" height="3" fill="#000"/>
<text transform="translate(580 828) scale(1 1.1)" font-size="9.3" fill="#000" text-anchor="start" >4 Sep 08:00</text>
<rect x="645" y="816" width="1" height="3" fill="#000"/>
<text transform="translate(644 828) scale(1 1.1)" font-size="9.3" fill="#000" text-anchor="start" >5 Sep 00:00</text>
<rect x="709" y="816" width="1" height="3" fill="#000"/>
<text transform="translate(708 828) scale(1 1.1)" font-size="9.3" fill="#000" text-anchor="start" >5 Sep 16:00</text>
<rect x="773" y="816" width="1" height="3" fill="#000"/>
<text transform="translate(772 828) scale(1 1.1)" font-size="9.3" fill="#000" text-anchor="start" >6 Sep 08:00</text>
<rect x="837" y="816" width="1" height="3" fill="#000"/>
<text transform="translate(836 828) scale(1 1.1)" font-size="9.3" fill="#000" text-anchor="start" >7 Sep 00:00</text>
<rect x="901" y="816" width="1" height="3" fill="#000"/>
<text transform="translate(900 828) scale(1 1.1)" font-size="9.3" fill="#000" text-anchor="start" >7 Sep 16:00</text>
<rect x="965" y="816" width="1" height="3" fill="#000"/>
<text transform="translate(964 828) scale(1 1.1)" font-size="9.3" fill="#000" text-anchor="start" >8 Sep 08:00</text>
<rect x="1029" y="816" width="1" height="3" fill="#000"/>
<text transform="translate(1028 828) scale(1 1.1)" font-size="9.3" fill="#000" text-anchor="start" >10 Sep 23:00</text>
<rect x="1093" y="816" width="1" height="3" fill="#000"/>
<text transform="translate(1092 828) scale(1 1.1)" font-size="9.3" fill="#000" text-anchor="start" >11 Sep 12:00</text>
<rect x="1157" y="816" width="1" height="3" fill="#000"/>
<text transform="translate(1156 828) scale(1 1.1)" font-size="9.3" fill="#000" text-anchor="start" >12 Sep 04:00</text>
<rect x="1221" y="816" width="1" height="3" fill="#000"/>
<text transform="translate(1220 828) scale(1 1.1)" font-size="9.3" fill="#000" text-anchor="start" >12 Sep 20:00</text>
<rect x="1285" y="816" width="1" height="3" fill="#000"/>
<text transform="translate(1284 828) scale(1 1.1)" font-size="9.3" fill="#000" text-anchor="start" >13 Sep 12:00</text>
</g>
<g shape-rendering="crispEdges">
<rect x="243" y="1" width="25" height="20" fill="#f7f7f7"/>
<rect x="243" y="21" width="25" height="1" fill="#fdfdfd"/>
<rect x="395" y="1" width="24" height="20" fill="#f7f7f7"/>
<rect x="395" y="21" width="24" height="1" fill="#fdfdfd"/>
<rect x="423" y="1" width="24" height="20" fill="#f7f7f7"/>
<rect x="423" y="21" width="24" height="1" fill="#fdfdfd"/>
<rect x="583" y="1" width="24" height="20" fill="#f7f7f7"/>
<rect x="583" y="21" width="24" height="1" fill="#fdfdfd"/>
<rect x="1028" y="1" width="26" height="20" fill="#f7f7f7"/>
<rect x="1028" y="21" width="26" height="1" fill="#fdfdfd"/>
<rect x="204" y="0" width="1" height="21" fill="#9a9a9a"/>
<rect x="205" y="0" width="1" height="21" fill="#ffffff"/>
<rect x="208" y="1" width="3" height="1" fill="#8c8c8c"/>
<rect x="208" y="3" width="3" height="1" fill="#8c8c8c"/>
<rect x="208" y="5" width="3" height="1" fill="#8c8c8c"/>
<rect x="208" y="7" width="3" height="1" fill="#8c8c8c"/>
<rect x="208" y="9" width="3" height="1" fill="#8c8c8c"/>
<rect x="208" y="11" width="3" height="1" fill="#8c8c8c"/>
<rect x="208" y="13" width="3" height="1" fill="#8c8c8c"/>
<rect x="208" y="15" width="3" height="1" fill="#8c8c8c"/>
<rect x="208" y="17" width="3" height="1" fill="#8c8c8c"/>
<rect x="208" y="19" width="3" height="1" fill="#8c8c8c"/>
<rect x="242" y="0" width="1" height="21" fill="#9a9a9a"/>
<rect x="300" y="0" width="1" height="21" fill="#9a9a9a"/>
<rect x="389" y="0" width="1" height="21" fill="#9a9a9a"/>
<rect x="394" y="0" width="1" height="21" fill="#9a9a9a"/>
<rect x="422" y="0" width="1" height="21" fill="#9a9a9a"/>
<rect x="451" y="0" width="1" height="21" fill="#9a9a9a"/>
<rect x="572" y="0" width="1" height="21" fill="#9a9a9a"/>
<rect x="576" y="1" width="3" height="1" fill="#8c8c8c"/>
<rect x="576" y="3" width="3" height="1" fill="#8c8c8c"/>
<rect x="576" y="5" width="3" height="1" fill="#8c8c8c"/>
<rect x="576" y="7" width="3" height="1" fill="#8c8c8c"/>
<rect x="576" y="9" width="3" height="1" fill="#8c8c8c"/>
<rect x="576" y="11" width="3" height="1" fill="#8c8c8c"/>
<rect x="576" y="13" width="3" height="1" fill="#8c8c8c"/>
<rect x="576" y="15" width="3" height="1" fill="#8c8c8c"/>
<rect x="576" y="17" width="3" height="1" fill="#8c8c8c"/>
<rect x="576" y="19" width="3" height="1" fill="#8c8c8c"/>
<rect x="582" y="0" width="1" height="21" fill="#9a9a9a"/>
<rect x="639" y="0" width="1" height="21" fill="#9a9a9a"/>
<rect x="878" y="0" width="1" height="21" fill="#9a9a9a"/>
<rect x="882" y="1" width="3" height="1" fill="#8c8c8c"/>
<rect x="882" y="3" width="3" height="1" fill="#8c8c8c"/>
<rect x="882" y="5" width="3" height="1" fill="#8c8c8c"/>
<rect x="882" y="7" width="3" height="1" fill="#8c8c8c"/>
<rect x="882" y="9" width="3" height="1" fill="#8c8c8c"/>
<rect x="882" y="11" width="3" height="1" fill="#8c8c8c"/>
<rect x="882" y="13" width="3" height="1" fill="#8c8c8c"/>
<rect x="882" y="15" width="3" height="1" fill="#8c8c8c"/>
<rect x="882" y="17" width="3" height="1" fill="#8c8c8c"/>
<rect x="882" y="19" width="3" height="1" fill="#8c8c8c"/>
<rect x="1027" y="0" width="1" height="21" fill="#9a9a9a"/>
<rect x="1139" y="0" width="1" height="21" fill="#9a9a9a"/>
<rect x="222" y="5" width="1" height="14" fill="#555555"/>
<rect x="220" y="16" width="14" height="1" fill="#555555"/>
<polygon points="220.5,7.5 224.5,7.5 222.5,4.5" fill="#555555"/><polygon points="231,14 231,19 234.5,16.5" fill="#555555"/>
<rect x="228" y="6" width="1" height="9" fill="#108a10"/>
<rect x="229" y="7" width="3" height="1" fill="#108a10"/>
<rect x="226" y="13" width="2" height="1" fill="#108a10"/>
<rect x="250" y="5" width="1" height="14" fill="#555555"/>
<rect x="248" y="16" width="14" height="1" fill="#555555"/>
<polygon points="248.5,7.5 252.5,7.5 250.5,4.5" fill="#555555"/><polygon points="259,14 259,19 262.5,16.5" fill="#555555"/>
<rect x="256" y="3" width="1" height="12" fill="#0a7a0a"/>
<rect x="254" y="5" width="5" height="8" fill="#0a7a0a"/>
<rect x="255" y="6" width="3" height="6" fill="#50e050"/>
<rect x="278" y="5" width="1" height="14" fill="#555555"/>
<rect x="276" y="16" width="14" height="1" fill="#555555"/>
<polygon points="276.5,7.5 280.5,7.5 278.5,4.5" fill="#555555"/><polygon points="287,14 287,19 290.5,16.5" fill="#555555"/>
<rect x="402" y="5" width="1" height="14" fill="#555555"/>
<rect x="400" y="16" width="14" height="1" fill="#555555"/>
<polygon points="400.5,7.5 404.5,7.5 402.5,4.5" fill="#555555"/><polygon points="411,14 411,19 414.5,16.5" fill="#555555"/>
<rect x="430" y="5" width="1" height="14" fill="#555555"/>
<rect x="428" y="16" width="14" height="1" fill="#555555"/>
<polygon points="428.5,7.5 432.5,7.5 430.5,4.5" fill="#555555"/><polygon points="439,14 439,19 442.5,16.5" fill="#555555"/>
<rect x="436" y="5" width="1" height="10" fill="#1a6aa0"/>
<rect x="656" y="5" width="1" height="13" fill="#4a4a4a"/>
<rect x="679" y="11" width="12" height="1" fill="#4a4a4a"/>
<rect x="615" y="11" width="7" height="1" fill="#4a4a4a"/>
<rect x="623" y="11" width="7" height="1" fill="#4a4a4a"/>
<rect x="622" y="4" width="1" height="7" fill="#4a4a4a"/>
<rect x="622" y="12" width="1" height="7" fill="#4a4a4a"/>
<rect x="762" y="4" width="1" height="1" fill="#3a3a3a"/>
<rect x="764" y="4" width="1" height="1" fill="#3a3a3a"/>
<rect x="766" y="4" width="1" height="1" fill="#3a3a3a"/>
<rect x="768" y="4" width="1" height="1" fill="#3a3a3a"/>
<rect x="770" y="4" width="1" height="1" fill="#3a3a3a"/>
<rect x="772" y="4" width="1" height="1" fill="#3a3a3a"/>
<rect x="774" y="4" width="1" height="1" fill="#3a3a3a"/>
<rect x="762" y="7" width="1" height="1" fill="#3a3a3a"/>
<rect x="764" y="7" width="1" height="1" fill="#3a3a3a"/>
<rect x="766" y="7" width="1" height="1" fill="#3a3a3a"/>
<rect x="768" y="7" width="1" height="1" fill="#3a3a3a"/>
<rect x="770" y="7" width="1" height="1" fill="#3a3a3a"/>
<rect x="772" y="7" width="1" height="1" fill="#3a3a3a"/>
<rect x="774" y="7" width="1" height="1" fill="#3a3a3a"/>
<rect x="762" y="11" width="1" height="1" fill="#3a3a3a"/>
<rect x="764" y="11" width="1" height="1" fill="#3a3a3a"/>
<rect x="766" y="11" width="1" height="1" fill="#3a3a3a"/>
<rect x="768" y="11" width="1" height="1" fill="#3a3a3a"/>
<rect x="770" y="11" width="1" height="1" fill="#3a3a3a"/>
<rect x="772" y="11" width="1" height="1" fill="#3a3a3a"/>
<rect x="774" y="11" width="1" height="1" fill="#3a3a3a"/>
<rect x="762" y="15" width="1" height="1" fill="#3a3a3a"/>
<rect x="764" y="15" width="1" height="1" fill="#3a3a3a"/>
<rect x="766" y="15" width="1" height="1" fill="#3a3a3a"/>
<rect x="768" y="15" width="1" height="1" fill="#3a3a3a"/>
<rect x="770" y="15" width="1" height="1" fill="#3a3a3a"/>
<rect x="819" y="5" width="1" height="1" fill="#3a3a3a"/>
<rect x="819" y="17" width="1" height="1" fill="#3a3a3a"/>
<rect x="821" y="5" width="1" height="1" fill="#3a3a3a"/>
<rect x="821" y="17" width="1" height="1" fill="#3a3a3a"/>
<rect x="823" y="5" width="1" height="1" fill="#3a3a3a"/>
<rect x="823" y="17" width="1" height="1" fill="#3a3a3a"/>
<rect x="825" y="5" width="1" height="1" fill="#3a3a3a"/>
<rect x="825" y="17" width="1" height="1" fill="#3a3a3a"/>
<rect x="827" y="5" width="1" height="1" fill="#3a3a3a"/>
<rect x="827" y="17" width="1" height="1" fill="#3a3a3a"/>
<rect x="829" y="5" width="1" height="1" fill="#3a3a3a"/>
<rect x="829" y="17" width="1" height="1" fill="#3a3a3a"/>
<rect x="831" y="5" width="1" height="1" fill="#3a3a3a"/>
<rect x="831" y="17" width="1" height="1" fill="#3a3a3a"/>
<rect x="819" y="5" width="1" height="1" fill="#3a3a3a"/>
<rect x="831" y="5" width="1" height="1" fill="#3a3a3a"/>
<rect x="819" y="7" width="1" height="1" fill="#3a3a3a"/>
<rect x="831" y="7" width="1" height="1" fill="#3a3a3a"/>
<rect x="819" y="9" width="1" height="1" fill="#3a3a3a"/>
<rect x="831" y="9" width="1" height="1" fill="#3a3a3a"/>
<rect x="819" y="11" width="1" height="1" fill="#3a3a3a"/>
<rect x="831" y="11" width="1" height="1" fill="#3a3a3a"/>
<rect x="819" y="13" width="1" height="1" fill="#3a3a3a"/>
<rect x="831" y="13" width="1" height="1" fill="#3a3a3a"/>
<rect x="819" y="15" width="1" height="1" fill="#3a3a3a"/>
<rect x="831" y="15" width="1" height="1" fill="#3a3a3a"/>
<rect x="819" y="17" width="1" height="1" fill="#3a3a3a"/>
<rect x="831" y="17" width="1" height="1" fill="#3a3a3a"/>
<rect x="818" y="4" width="2" height="1" fill="#3a3a3a"/>
<rect x="821" y="8" width="8" height="2" fill="#555555"/>
<rect x="824" y="8" width="2" height="8" fill="#555555"/>
</g>
<text x="-2" y="14" font-size="12" fill="#000" style="font-family:"Liberation Sans", sans-serif">新订单</text>
<text x="150" y="14" font-size="12" fill="#000" style="font-family:"Liberation Sans", sans-serif">自动交易</text>
<defs><linearGradient id="bk" x1="0" y1="0" x2="1" y2="1"><stop offset="0" stop-color="#f8e070"/><stop offset="1" stop-color="#d09a18"/></linearGradient><linearGradient id="cl" x1="0" y1="0" x2="0" y2="1"><stop offset="0" stop-color="#ffffff"/><stop offset="1" stop-color="#b8c4d8"/></linearGradient><radialGradient id="rg" cx="0.7" cy="0.7" r="0.7"><stop offset="0" stop-color="#90d090"/><stop offset="1" stop-color="#e8f0e8" stop-opacity="0.2"/></radialGradient></defs>
<polygon points="50.3,4.2 59.8,11 60.6,13.6 53,18.3 45.3,12.8 48.6,9" fill="url(#bk)" stroke="#a06412" stroke-width="1.1" stroke-linejoin="round"/><polygon points="46.5,13 53,17.3 59.5,13 59,12.2 52.6,16 47.2,12" fill="#f0e0a0"/><line x1="47" y1="12.6" x2="53.2" y2="16.8" stroke="#c89030" stroke-width="0.8"/>
<polygon points="75,3 85.8,3 85.8,12 75,12" fill="#1a90f0"/><polygon points="75,3 78,5 78,12 75,12" fill="#0a78e0"/><line x1="75.5" y1="3.5" x2="78.5" y2="5.5" stroke="#e0f4ff" stroke-width="0.8"/><line x1="78.5" y1="5.5" x2="78.5" y2="11" stroke="#e0f4ff" stroke-width="0.8"/><rect x="80" y="7.6" width="4.5" height="1.2" fill="#e8f6ff"/><path d="M74.6,17.8 C72.8,17.6 72.9,13.9 75.6,14 C76.2,12.2 79.2,11.8 80.3,13.2 C81.3,10.9 85.2,11 85.8,13.4 C88.6,13.3 89.2,17.6 86.6,17.8 Z" fill="url(#cl)" stroke="#46649a" stroke-width="1.1" stroke-linejoin="round"/>
<circle cx="108.9" cy="10.7" r="7.3" fill="url(#rg)" stroke="#6a8cd8" stroke-width="1.1" stroke-opacity="0.8"/><path d="M109.6,18 A7.3,7.3 0 0 0 116.2,10.7 A7.3,7.3 0 0 0 113,4.6" fill="none" stroke="#3a8a50" stroke-width="1.1"/><circle cx="108.9" cy="10.7" r="4.4" fill="none" stroke="#8aa8e0" stroke-width="1" stroke-opacity="0.8"/><circle cx="108.9" cy="10.3" r="2" fill="#2a50c8"/><rect x="108.6" y="10.5" width="1.6" height="8" fill="#18a018"/>
<polygon points="128.8,10.2 144,10.2 137.2,18.8" fill="#f4dc50" stroke="#c09020" stroke-width="0.9" stroke-linejoin="round"/><ellipse cx="136.2" cy="8.2" rx="7.6" ry="2.6" fill="#5ab4e6" stroke="#2a7c98" stroke-width="0.9"/><ellipse cx="136.4" cy="5.8" rx="3.8" ry="2.6" fill="#78c4ee" stroke="#2a7c98" stroke-width="0.8"/><circle cx="140.4" cy="14.8" r="4.1" fill="#e02808" stroke="#b01800" stroke-width="0.7"/><rect x="139.1" y="13.3" width="3" height="3" fill="#fff"/>
<polygon points="407,7 407,14 411.5,10.5" fill="#30c040" stroke="#108a10" stroke-width="0.8"/>
<polygon points="437,10.5 440.5,8 440.5,13" fill="#e05010"/><rect x="439" y="10" width="3.5" height="1.2" fill="#c04010"/>
<path d="M276.5,13.5 Q282,4 285,8.5 Q287,11 289.5,11.5" stroke="#30a030" stroke-width="1.1" fill="none"/>
<line x1="317.8" y1="13" x2="322.3" y2="17.5" stroke="#b07808" stroke-width="3"/><line x1="317.8" y1="13" x2="322.3" y2="17.5" stroke="#f0d040" stroke-width="1.6"/><circle cx="313.8" cy="9" r="5.6" fill="#d8eefa" stroke="#3a80cc" stroke-width="1.2"/><rect x="310.6" y="8.1" width="6.4" height="1.8" fill="#3a78a8"/>
<rect x="312.90000000000003" y="5.8" width="1.8" height="6.4" fill="#3a78a8"/>
<line x1="345.8" y1="13" x2="350.3" y2="17.5" stroke="#b07808" stroke-width="3"/><line x1="345.8" y1="13" x2="350.3" y2="17.5" stroke="#f0d040" stroke-width="1.6"/><circle cx="341.8" cy="9" r="5.6" fill="#d8eefa" stroke="#3a80cc" stroke-width="1.2"/><rect x="338.6" y="8.1" width="6.4" height="1.8" fill="#3a78a8"/>
<rect x="364" y="3" width="8" height="8" rx="1" fill="#30a020"/><rect x="365" y="6.5" width="6" height="3.5" fill="#fafafa"/><rect x="366" y="7.5" width="4" height="0.8" fill="#a0d890"/>
<rect x="372" y="3" width="8" height="8" rx="1" fill="#2060d0"/><rect x="373" y="6.5" width="6" height="3.5" fill="#fafafa"/><rect x="374" y="7.5" width="4" height="0.8" fill="#90b0f0"/>
<rect x="364" y="11" width="8" height="8" rx="1" fill="#2060d0"/><rect x="365" y="14.5" width="6" height="3.5" fill="#fafafa"/><rect x="366" y="15.5" width="4" height="0.8" fill="#90b0f0"/>
<rect x="372" y="11" width="8" height="8" rx="1" fill="#30a020"/><rect x="373" y="14.5" width="6" height="3.5" fill="#fafafa"/><rect x="374" y="15.5" width="4" height="0.8" fill="#a0d890"/>
<path d="M461.5,3.5 H470 L473,6.5 V16.5 H461.5 Z" fill="#fafafa" stroke="#808080" stroke-width="1"/><path d="M465,6 q-1,0 -1,2 v5 q0,2 -1,2" stroke="#404040" stroke-width="0.8" fill="none"/><path d="M467.5,11 h3 v-2.5 h3 v2.5 h3 v3.5 h-3 v5.5 h-3 v-5.5 h-3 z" fill="#30d030" stroke="#108010" stroke-width="0.9"/>
<polygon points="482.5,10 488.5,10 485.5,13" fill="#000"/>
<circle cx="507" cy="11" r="7.2" fill="#f8fbff" stroke="#1a60c0" stroke-width="2.4"/><path d="M507,6.5 V11 H510" stroke="#202020" stroke-width="1.1" fill="none"/>
<polygon points="521.5,10 527.5,10 524.5,13" fill="#000"/>
<rect x="538.5" y="4.5" width="15" height="13" fill="#f8fbff" stroke="#2a70c8" stroke-width="1"/><rect x="539" y="5" width="14" height="1.8" fill="#5a9ae0"/><path d="M540,11 l2.5,-0.8 l2.5,0.8 l2.5,-1.5 l2.5,0.8 l2,-0.8" stroke="#b03010" stroke-width="1" fill="none"/><rect x="539" y="12.2" width="14" height="0.9" fill="#2a70c8"/><path d="M540,16 l2.5,-1 l2.5,0.8 l2.5,-2 l3,2" stroke="#30a030" stroke-width="1" fill="none"/>
<polygon points="560.5,10 566.5,10 563.5,13" fill="#000"/>
<polygon points="590.2,4 590.2,14.8 593,12.3 595.5,17.8 597.5,17 595,11.5 598.5,11.5" fill="#4a4a4a"/>
<line x1="707" y1="17.7" x2="718.8" y2="5.7" stroke="#4a4a4a" stroke-width="1"/>
<path d="M733,12.5 L741,5 M734.5,17.5 L747,8.5 M735.5,15 L745.5,6.5 M736,10 v7 M740,7 v7 M744,4 v7" stroke="#404040" stroke-width="1" fill="none"/><text x="743.3" y="19.8" font-size="7" font-weight="bold" fill="#404040" style="font-family:"Liberation Sans", sans-serif">E</text>
<text x="771.5" y="19.8" font-size="7" font-weight="bold" fill="#404040" style="font-family:"Liberation Sans", sans-serif">F</text>
<text x="792.3" y="16" font-size="12" font-weight="bold" fill="#505050" style="font-family:"Liberation Sans", sans-serif">A</text>
<polygon points="849.5,5 853,8.5 846,8.5" fill="#4a4a4a"/><polygon points="849.5,10 853,8 846,8" fill="#4a4a4a"/><polygon points="856.5,18 853,14.5 860,14.5" fill="#4a4a4a"/><polygon points="856.5,13 853,15 860,15" fill="#4a4a4a"/><path d="M848,12 l2.5,2.5 l4.5,-5" stroke="#4a4a4a" stroke-width="1.2" fill="none"/>
<polygon points="866.5,10 872.5,10 869.5,13" fill="#000"/>
<text transform="translate(894 14.6) scale(1 1.15)" font-size="9.3" fill="#383838" style="font-family:"Liberation Sans", sans-serif">M1</text>
<text transform="translate(922 14.6) scale(1 1.15)" font-size="9.3" fill="#383838" style="font-family:"Liberation Sans", sans-serif">M5</text>
<text transform="translate(947 14.6) scale(1 1.15)" font-size="9.3" fill="#383838" style="font-family:"Liberation Sans", sans-serif">M15</text>
<text transform="translate(975 14.6) scale(1 1.15)" font-size="9.3" fill="#383838" style="font-family:"Liberation Sans", sans-serif">M30</text>
<text transform="translate(1006 14.6) scale(1 1.15)" font-size="9.3" fill="#383838" style="font-family:"Liberation Sans", sans-serif">H1</text>
<text transform="translate(1033 14.6) scale(1 1.15)" font-size="9.3" fill="#383838" style="font-family:"Liberation Sans", sans-serif">H4</text>
<text transform="translate(1062 14.6) scale(1 1.15)" font-size="9.3" fill="#383838" style="font-family:"Liberation Sans", sans-serif">D1</text>
<text transform="translate(1090 14.6) scale(1 1.15)" font-size="9.3" fill="#383838" style="font-family:"Liberation Sans", sans-serif">W1</text>
<text transform="translate(1116 14.6) scale(1 1.15)" font-size="9.3" fill="#383838" style="font-family:"Liberation Sans", sans-serif">MN</text>
<line x1="1606.5" y1="11.5" x2="1602.5" y2="15.5" stroke="#2a60d0" stroke-width="2.4"/><circle cx="1609.5" cy="8.3" r="3.9" fill="#f4f6ff" stroke="#2a60d0" stroke-width="1.5"/>
<ellipse cx="1631.5" cy="12.5" rx="5" ry="4" fill="#e8e8f0" stroke="#a0a0a0" stroke-width="1"/><polygon points="1629,16 1629.5,19.5 1633,16" fill="#909090"/><defs><linearGradient id="bdg" x1="0" y1="0" x2="0" y2="1"><stop offset="0" stop-color="#ec6040"/><stop offset="1" stop-color="#d01a08"/></linearGradient></defs><circle cx="1640.5" cy="8.5" r="8.2" fill="url(#bdg)"/><path d="M1639.3,4.3 H1641.3 V12 H1642.6 V13.2 H1637.2 V12 H1638.9 V6.6 L1637.2,7.3 V6.1 Z" fill="#fff"/>
</svg>
</body></html>
